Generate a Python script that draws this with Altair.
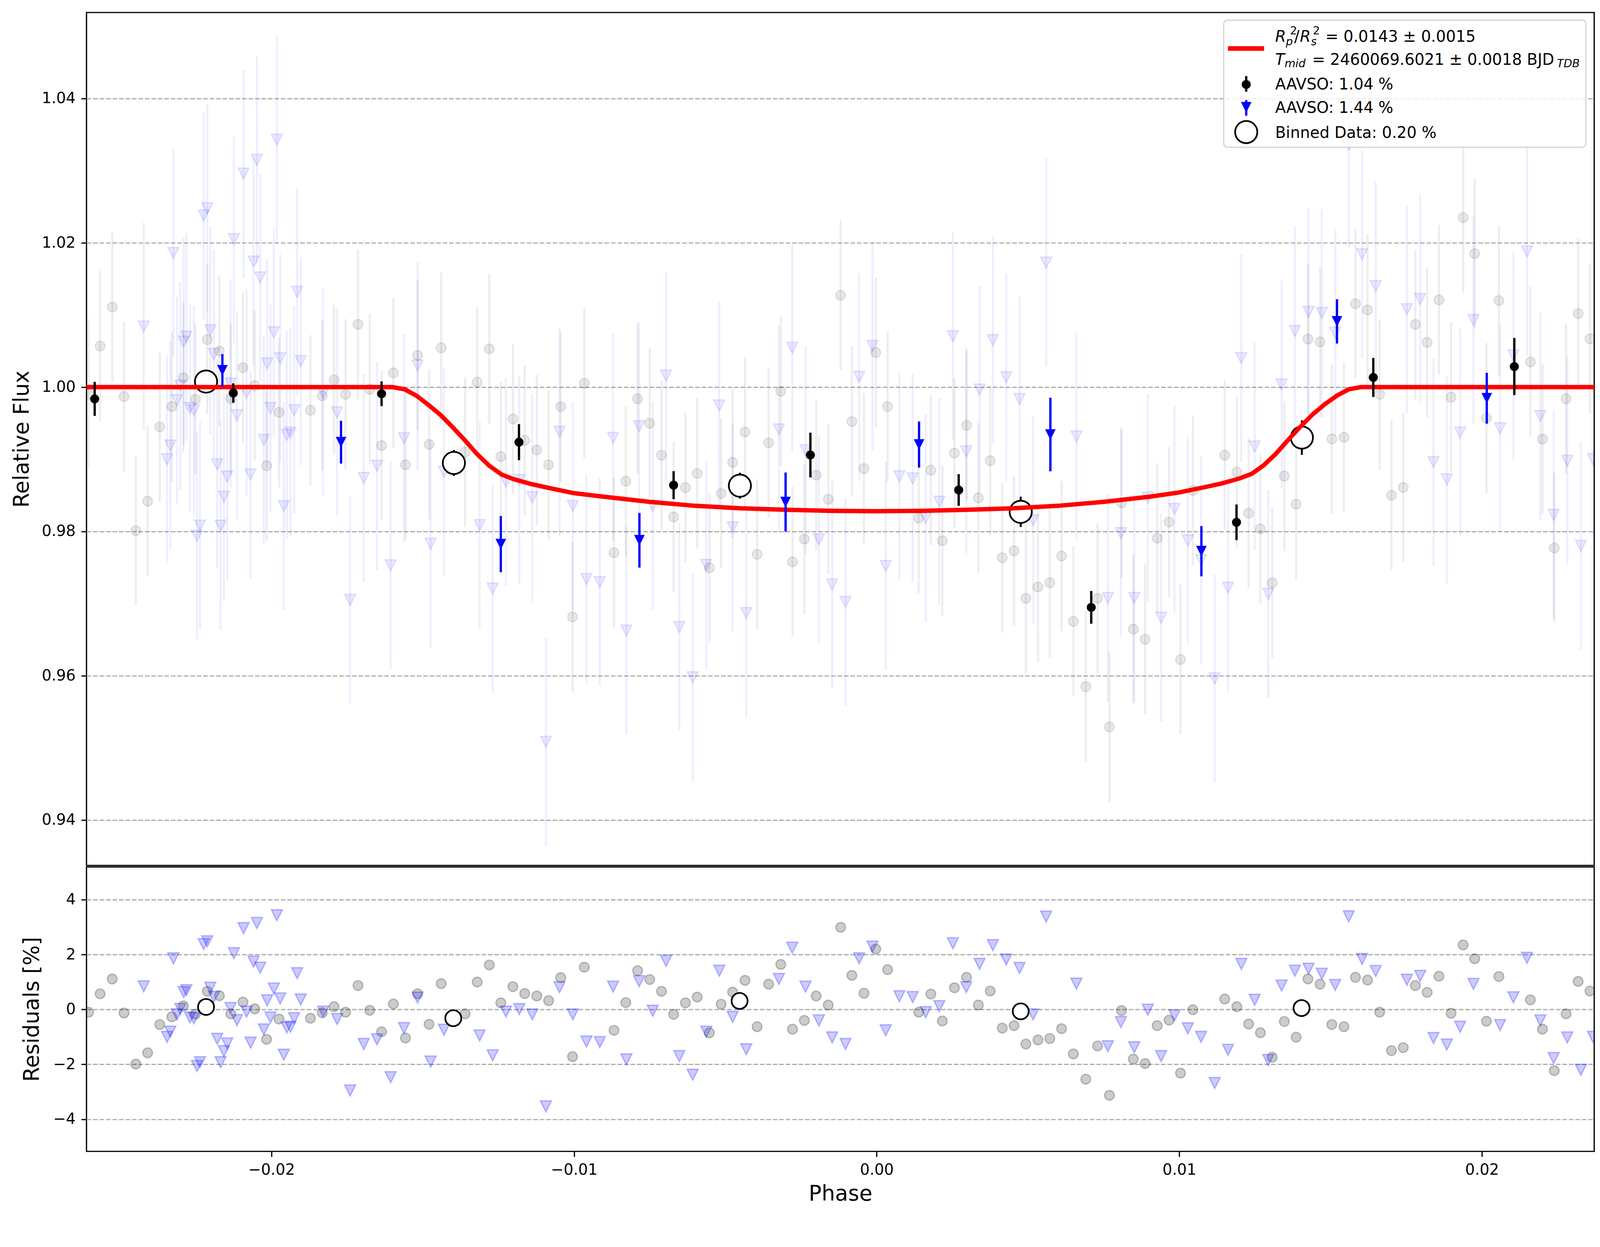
import numpy as np
import pandas as pd
import altair as alt

# ---------------- data ----------------
model_phase = [-0.02611, -0.0160, -0.0156, -0.0152, -0.0148, -0.0144, -0.0140, -0.0136, -0.0132,
               -0.0128, -0.0124, -0.0120, -0.0114, -0.0108, -0.0100, -0.0090, -0.0075, -0.0060,
               -0.0045, -0.0030, -0.0015, 0.0000, 0.0015, 0.0030, 0.0045, 0.0060, 0.0075, 0.0090,
               0.0100, 0.0108, 0.0114, 0.0120, 0.0124, 0.0128, 0.0132, 0.0136, 0.0140, 0.0144,
               0.0148, 0.0152, 0.0156, 0.0160, 0.02371]
model_flux = [1.0000, 1.0000, 0.9997, 0.9988, 0.9975, 0.9961, 0.9944, 0.9926, 0.9907,
              0.9891, 0.9879, 0.98725, 0.98655, 0.9860, 0.9853, 0.9848, 0.9841, 0.98355,
              0.9832, 0.9830, 0.98285, 0.9828, 0.98285, 0.9830, 0.9832, 0.98355, 0.9841, 0.9848,
              0.9854, 0.9861, 0.98665, 0.98735, 0.9880, 0.9892, 0.9908, 0.9927, 0.9945, 0.9962,
              0.9976, 0.9988, 0.9997, 1.0000, 1.0000]

gray_phase = [-0.02604, -0.02566, -0.02526, -0.02487, -0.02448, -0.02409, -0.02369, -0.02329,
              -0.02291, -0.02251, -0.02212, -0.02172, -0.02134, -0.02094, -0.02055, -0.02016,
              -0.01975, -0.01871, -0.01832, -0.01793, -0.01755, -0.01714, -0.01675, -0.01636,
              -0.01597, -0.01557, -0.01517, -0.01479, -0.01439, -0.01360, -0.01320, -0.01280,
              -0.01242, -0.01202, -0.01163, -0.01123, -0.01084, -0.01044, -0.01005, -0.00966,
              -0.00868, -0.00829, -0.00790, -0.00750, -0.00711, -0.00671, -0.00632, -0.00593,
              -0.00553, -0.00514, -0.00476, -0.00435, -0.00395, -0.00357, -0.00317, -0.00278,
              -0.00239, -0.00200, -0.00160, -0.00119, -0.00082, -0.00042, -0.00003, 0.00036,
              0.00139, 0.00179, 0.00217, 0.00257, 0.00297, 0.00336, 0.00375, 0.00415, 0.00454,
              0.00493, 0.00533, 0.00572, 0.00611, 0.00650, 0.00691, 0.00730, 0.00769, 0.00809,
              0.00848, 0.00887, 0.00927, 0.00966, 0.01004, 0.01045, 0.01150, 0.01190, 0.01229,
              0.01268, 0.01307, 0.01347, 0.01386, 0.01425, 0.01465, 0.01504, 0.01544, 0.01582,
              0.01622, 0.01662, 0.01701, 0.01740, 0.01780, 0.01819, 0.01858, 0.01898, 0.01938,
              0.01976, 0.02015, 0.02056, 0.02160, 0.02200, 0.02239, 0.02278, 0.02318, 0.02357]
gray_res = [-0.10, 0.57, 1.11, -0.13, -1.99, -1.58, -0.55, -0.27,
            0.13, -0.17, 0.66, 0.50, -0.16, 0.27, 0.02, -1.09,
            -0.35, -0.32, -0.12, 0.10, -0.10, 0.87, -0.03, -0.81,
            0.20, -1.04, 0.57, -0.54, 0.94, -0.16, 1.00, 1.62,
            0.24, 0.83, 0.58, 0.49, 0.32, 1.16, -1.72, 1.54,
            -0.76, 0.25, 1.41, 1.09, 0.66, -0.18, 0.24, 0.45,
            -0.85, 0.19, 0.63, 1.06, -0.63, 0.92, 1.64, -0.72,
            -0.40, 0.49, 0.16, 2.99, 1.24, 0.59, 2.20, 1.45,
            -0.10, 0.56, -0.42, 0.79, 1.17, 0.16, 0.67, -0.68, -0.59,
            -1.26, -1.11, -1.06, -0.70, -1.62, -2.54, -1.33, -3.13, -0.04,
            -1.81, -1.97, -0.59, -0.39, -2.32, -0.01, 0.38, 0.10, -0.53,
            -0.85, -1.74, -0.44, -1.01, 1.11, 0.92, -0.55, -0.63, 1.17,
            1.07, -0.10, -1.50, -1.39, 0.87, 0.62, 1.21, -0.14, 2.35,
            1.85, -0.43, 1.20, 0.35, -0.72, -2.23, -0.16, 1.02, 0.67]

blue_phase = [-0.02422, -0.02345, -0.02334, -0.02324, -0.02312, -0.02301, -0.02290, -0.02281,
              -0.02269, -0.02256, -0.02246, -0.02236, -0.02224, -0.02212, -0.02202, -0.02190,
              -0.02179, -0.02168, -0.02157, -0.02146, -0.02135, -0.02124, -0.02114, -0.02092,
              -0.02082, -0.02069, -0.02059, -0.02048, -0.02037, -0.02025, -0.02014, -0.02003,
              -0.01992, -0.01982, -0.01971, -0.01959, -0.01949, -0.01937, -0.01925, -0.01915,
              -0.01903, -0.01829, -0.01783, -0.01740, -0.01695, -0.01651, -0.01606, -0.01562,
              -0.01517, -0.01474, -0.01430, -0.01312, -0.01269, -0.01225, -0.01181, -0.01138,
              -0.01093, -0.01048, -0.01004, -0.00959, -0.00915, -0.00871, -0.00827, -0.00785,
              -0.00740, -0.00696, -0.00652, -0.00608, -0.00563, -0.00520, -0.00476, -0.00431,
              -0.00323, -0.00279, -0.00235, -0.00191, -0.00147, -0.00103, -0.00058, -0.00014,
              0.00030, 0.00075, 0.00119, 0.00162, 0.00207, 0.00252, 0.00296, 0.00340, 0.00384,
              0.00428, 0.00472, 0.00517, 0.00560, 0.00660, 0.00764, 0.00807, 0.00851, 0.00896,
              0.00940, 0.00984, 0.01028, 0.01072, 0.01117, 0.01161, 0.01205, 0.01249, 0.01294,
              0.01338, 0.01382, 0.01427, 0.01471, 0.01515, 0.01560, 0.01604, 0.01649, 0.01752,
              0.01796, 0.01840, 0.01884, 0.01928, 0.01972, 0.02060, 0.02104, 0.02149, 0.02193,
              0.02237, 0.02282, 0.02327, 0.02367]
blue_res = [0.84, -1.00, -0.81, 1.86, -0.18, 0.02, 0.63, 0.70,
            -0.29, -0.32, -2.06, -1.92, 2.38, 2.48, 0.79, 0.46,
            -1.07, -1.92, -1.52, -1.24, 0.05, 2.05, -0.39, 2.96,
            -0.08, -1.21, 1.74, 3.15, 1.52, -0.73, 0.33, -0.29,
            0.76, 3.43, 0.40, -1.65, -0.66, -0.63, -0.32, 1.32,
            0.36, -0.08, -0.35, -2.95, -1.26, -1.09, -2.47, -0.68,
            0.43, -1.90, -0.74, -0.95, -1.67, -0.08, 0.01, -0.18,
            -3.53, 0.81, -0.18, -1.17, -1.19, 0.83, -1.82, 1.03,
            -0.05, 1.77, -1.70, -2.38, -0.81, 1.41, -0.27, -1.45,
            1.11, 2.25, 0.83, -0.40, -1.02, -1.26, 1.86, 2.29,
            -0.76, 0.48, 0.45, -0.10, 0.12, 2.41, 0.81, 1.66, 2.34,
            1.82, 1.51, -0.18, 3.38, 0.94, -1.34, -0.46, -1.38, -0.01,
            -1.70, -0.22, -0.69, -1.00, -2.68, -1.47, 1.66, 0.35, -1.84,
            0.87, 1.41, 1.48, 1.30, 0.89, 3.39, 1.84, 1.40, 1.08,
            1.22, -1.04, -1.28, -0.63, 0.93, -0.57, 0.44, 1.88, -0.40,
            -1.77, -1.02, -2.20, -1.00]

gray_err = 0.0104
blue_err = 0.0144

bb_phase = [-0.02584, -0.02126, -0.01636, -0.01182, -0.00671, -0.00219, 0.00271, 0.00709,
            0.01189, 0.01641, 0.02107]
bb_flux = [0.99837, 0.99918, 0.99908, 0.99237, 0.98641, 0.99059, 0.98574, 0.96947,
           0.98126, 1.00134, 1.00285]
bb_err = [0.00236, 0.00135, 0.00171, 0.00250, 0.00194, 0.00310, 0.00220, 0.00227,
          0.00247, 0.00271, 0.00397]

bl_phase = [-0.02162, -0.01770, -0.01242, -0.00784, -0.00301, 0.00140, 0.00574, 0.01073,
            0.01521, 0.02016]
bl_flux = [1.00233, 0.99237, 0.97824, 0.97877, 0.98407, 0.99204, 0.99343, 0.97726,
           1.00911, 0.99846]
bl_err = [0.00225, 0.00297, 0.00390, 0.00379, 0.00410, 0.00320, 0.00510, 0.00348,
          0.00307, 0.00353]

bin_phase = [-0.02216, -0.01397, -0.00452, 0.00476, 0.01405]
bin_flux = [1.00077, 0.98949, 0.98634, 0.98271, 0.99301]
bin_err = [0.0014, 0.0018, 0.0018, 0.0021, 0.0024]
binres_phase = [-0.02216, -0.01399, -0.00453, 0.00476, 0.01404]
bin_res = [0.09, -0.32, 0.31, -0.07, 0.05]

x_ticks = [-0.02, -0.01, 0.00, 0.01, 0.02]
flux_ticks = [0.94, 0.96, 0.98, 1.00, 1.02, 1.04]
res_ticks = [-4, -2, 0, 2, 4]

XDOM = [-0.02611, 0.02371]
YDOM = [0.93370, 1.05193]
RDOM = [-5.17, 5.19]

legend_texts = {
    "r1": "R", "r_sup": "2", "r_sub_p": "p", "slash": "/", "r2": "R", "r2_sup": "2",
    "r_sub_s": "s", "depth": "= 0.0143 \u00b1 0.0015",
    "t": "T", "t_sub": "mid", "tmid": "= 2460069.6021 \u00b1 0.0018 BJD", "tdb": "TDB",
    "a1": "AAVSO: 1.04 %", "a2": "AAVSO: 1.44 %", "bin": "Binned Data: 0.20 %",
}

# ---------------- tables ----------------
gray_df = pd.DataFrame({"phase": gray_phase, "res": gray_res})
gray_df["flux"] = np.interp(gray_df["phase"], model_phase, model_flux) + gray_df["res"] / 100.0
gray_df["lo"] = gray_df["flux"] - gray_err
gray_df["hi"] = gray_df["flux"] + gray_err

blue_df = pd.DataFrame({"phase": blue_phase, "res": blue_res})
blue_df["flux"] = np.interp(blue_df["phase"], model_phase, model_flux) + blue_df["res"] / 100.0
blue_df["lo"] = blue_df["flux"] - blue_err
blue_df["hi"] = blue_df["flux"] + blue_err

model_df = pd.DataFrame({"phase": model_phase, "flux": model_flux})

bb_df = pd.DataFrame({"phase": bb_phase, "flux": bb_flux, "err": bb_err})
bb_df["lo"] = bb_df["flux"] - bb_df["err"]
bb_df["hi"] = bb_df["flux"] + bb_df["err"]
bl_df = pd.DataFrame({"phase": bl_phase, "flux": bl_flux, "err": bl_err})
bl_df["lo"] = bl_df["flux"] - bl_df["err"]
bl_df["hi"] = bl_df["flux"] + bl_df["err"]
bin_df = pd.DataFrame({"phase": bin_phase, "flux": bin_flux, "err": bin_err})
bin_df["lo"] = bin_df["flux"] - bin_df["err"]
bin_df["hi"] = bin_df["flux"] + bin_df["err"]
binres_df = pd.DataFrame({"phase": binres_phase, "res": bin_res})

# ---------------- encodings ----------------
W, H1, H2 = 3960, 2240, 747
FONT = "DejaVu Sans"
TRI = "M-1,-1L1,-1L0,1Z"

xs = alt.Scale(domain=XDOM, nice=False, zero=False)
ys = alt.Scale(domain=YDOM, nice=False, zero=False)
rs = alt.Scale(domain=RDOM, nice=False, zero=False)

Xtop = alt.X("phase:Q", scale=xs, axis=None)
yaxis_top = alt.Axis(values=flux_ticks, format=".2f", title="Relative Flux", grid=True,
                     titlePadding=35, titleBaseline="alphabetic")


def Yt(field):
    return alt.Y(f"{field}:Q", scale=ys, axis=yaxis_top, title="Relative Flux")


faint_gray_bars = alt.Chart(gray_df).mark_rule(color="black", opacity=0.07, strokeWidth=5.5, clip=True).encode(
    x=Xtop, y=Yt("lo"), y2="hi:Q")
faint_blue_bars = alt.Chart(blue_df).mark_rule(color="blue", opacity=0.065, strokeWidth=5.5, clip=True).encode(
    x=Xtop, y=Yt("lo"), y2="hi:Q")
faint_gray_pts = alt.Chart(gray_df).mark_point(shape="circle", size=650, fill="black", fillOpacity=0.09,
                                               stroke="black", strokeOpacity=0.09, strokeWidth=3.5,
                                               clip=True).encode(x=Xtop, y=Yt("flux"))
faint_blue_pts = alt.Chart(blue_df).mark_point(shape=TRI, size=841, fill="blue", fillOpacity=0.08,
                                               stroke="blue", strokeOpacity=0.1, strokeWidth=3.5,
                                               clip=True).encode(x=Xtop, y=Yt("flux"))

bin_bars = alt.Chart(bin_df).mark_rule(color="black", strokeWidth=5).encode(x=Xtop, y=Yt("lo"), y2="hi:Q")
bin_pts = alt.Chart(bin_df).mark_point(shape="circle", size=3400, fill="white", fillOpacity=1,
                                       stroke="black", strokeWidth=4.5, opacity=1).encode(x=Xtop, y=Yt("flux"))

model_line = alt.Chart(model_df).mark_line(color="red", strokeWidth=11.5, clip=True).encode(
    x=Xtop, y=Yt("flux"))

bb_bars = alt.Chart(bb_df).mark_rule(color="black", strokeWidth=6).encode(x=Xtop, y=Yt("lo"), y2="hi:Q")
bb_pts = alt.Chart(bb_df).mark_point(shape="circle", size=560, filled=True, color="black", opacity=1).encode(
    x=Xtop, y=Yt("flux"))
bl_bars = alt.Chart(bl_df).mark_rule(color="blue", strokeWidth=6).encode(x=Xtop, y=Yt("lo"), y2="hi:Q")
bl_pts = alt.Chart(bl_df).mark_point(shape=TRI, size=780, filled=True, color="blue", opacity=1).encode(
    x=Xtop, y=Yt("flux"))

# ---------------- legend (inside the top panel, pixel placed) ----------------
one = alt.Data(values=[{"k": 0}])


def ltext(key, x, y, size=41, italic=False):
    return alt.Chart(one).mark_text(text=legend_texts[key], font=FONT, fontSize=size,
                                    fontStyle="italic" if italic else "normal",
                                    align="left", baseline="alphabetic", color="black").encode(
        x=alt.value(x), y=alt.value(y))


leg_box = alt.Chart(one).mark_rect(fill="white", fillOpacity=0.8, stroke="#d2d2d2", strokeWidth=3,
                                   cornerRadius=10).encode(
    x=alt.value(2987), x2=alt.value(3938), y=alt.value(20), y2=alt.value(354))
leg_line = alt.Chart(one).mark_rule(color="red", strokeWidth=12).encode(
    x=alt.value(2998), x2=alt.value(3093), y=alt.value(94.5))
leg_bb_bar = alt.Chart(one).mark_rule(color="black", strokeWidth=6).encode(
    x=alt.value(3046), y=alt.value(167), y2=alt.value(208))
leg_bb_pt = alt.Chart(one).mark_point(shape="circle", size=560, filled=True, color="black", opacity=1).encode(
    x=alt.value(3046), y=alt.value(189))
leg_bl_bar = alt.Chart(one).mark_rule(color="blue", strokeWidth=6).encode(
    x=alt.value(3046), y=alt.value(230), y2=alt.value(271))
leg_bl_pt = alt.Chart(one).mark_point(shape=TRI, size=780, filled=True, color="blue", opacity=1).encode(
    x=alt.value(3046), y=alt.value(249))
leg_bin = alt.Chart(one).mark_point(shape="circle", size=3400, fill="white", stroke="black",
                                    strokeWidth=4.5, opacity=1).encode(x=alt.value(3046), y=alt.value(314))

legend_layers = [
    leg_box, leg_line,
    ltext("r1", 3122, 77, italic=True), ltext("r_sup", 3161, 57, size=29),
    ltext("r_sub_p", 3150, 86, size=29, italic=True), ltext("slash", 3172, 77),
    ltext("r2", 3187, 77, italic=True), ltext("r2_sup", 3221, 57, size=29),
    ltext("r_sub_s", 3216, 86, size=29, italic=True), ltext("depth", 3254, 77),
    ltext("t", 3122, 137, italic=True), ltext("t_sub", 3147, 144, size=29, italic=True),
    ltext("tmid", 3219, 137), ltext("tdb", 3862, 144, size=29, italic=True),
    leg_bb_bar, leg_bb_pt, ltext("a1", 3122, 202),
    leg_bl_bar, leg_bl_pt, ltext("a2", 3122, 264),
    leg_bin, ltext("bin", 3122, 329),
]

top = alt.layer(
    faint_gray_bars, faint_blue_bars, faint_gray_pts, faint_blue_pts,
    bin_bars, bin_pts, model_line, bb_bars, bb_pts, bl_bars, bl_pts,
    *legend_layers,
).properties(width=W, height=H1)

# ---------------- residual panel ----------------
Xbot = alt.X("phase:Q", scale=xs, axis=alt.Axis(values=x_ticks, format=".2f", title="Phase",
                                                 grid=False, titlePadding=16))
yaxis_bot = alt.Axis(values=res_ticks, format="d", title="Residuals [%]", grid=True,
                     titlePadding=38, titleBaseline="alphabetic")
Yb = alt.Y("res:Q", scale=rs, axis=yaxis_bot, title="Residuals [%]")

res_gray = alt.Chart(gray_df).mark_point(shape="circle", size=650, fill="black", fillOpacity=0.2,
                                         stroke="black", strokeOpacity=0.22, strokeWidth=3.5,
                                         clip=True).encode(x=Xbot, y=Yb)
res_blue = alt.Chart(blue_df).mark_point(shape=TRI, size=841, fill="blue", fillOpacity=0.2,
                                         stroke="blue", strokeOpacity=0.25, strokeWidth=3.5,
                                         clip=True).encode(x=Xbot, y=Yb)
res_bin = alt.Chart(binres_df).mark_point(shape="circle", size=1764, fill="white", fillOpacity=1,
                                          stroke="black", strokeWidth=4.5, opacity=1).encode(x=Xbot, y=Yb)

bottom = alt.layer(res_gray, res_blue, res_bin).properties(width=W, height=H2)

chart = alt.vconcat(top, bottom, spacing=0).properties(
    padding={"left": 19, "top": -17.5, "right": 5, "bottom": -30},
    background="white",
).configure_view(
    stroke="black", strokeWidth=3.3
).configure_axis(
    labelFont=FONT, labelFontSize=40, labelColor="black", labelPadding=15,
    titleFont=FONT, titleFontSize=56, titleFontWeight="normal", titleColor="black",
    tickSize=14, tickWidth=3.2, tickColor="black", domain=False,
    gridColor="#a9a9a9", gridDash=[12, 5], gridWidth=3,
)

chart.save("out.html", embed_options={"renderer": "svg", "actions": False})
